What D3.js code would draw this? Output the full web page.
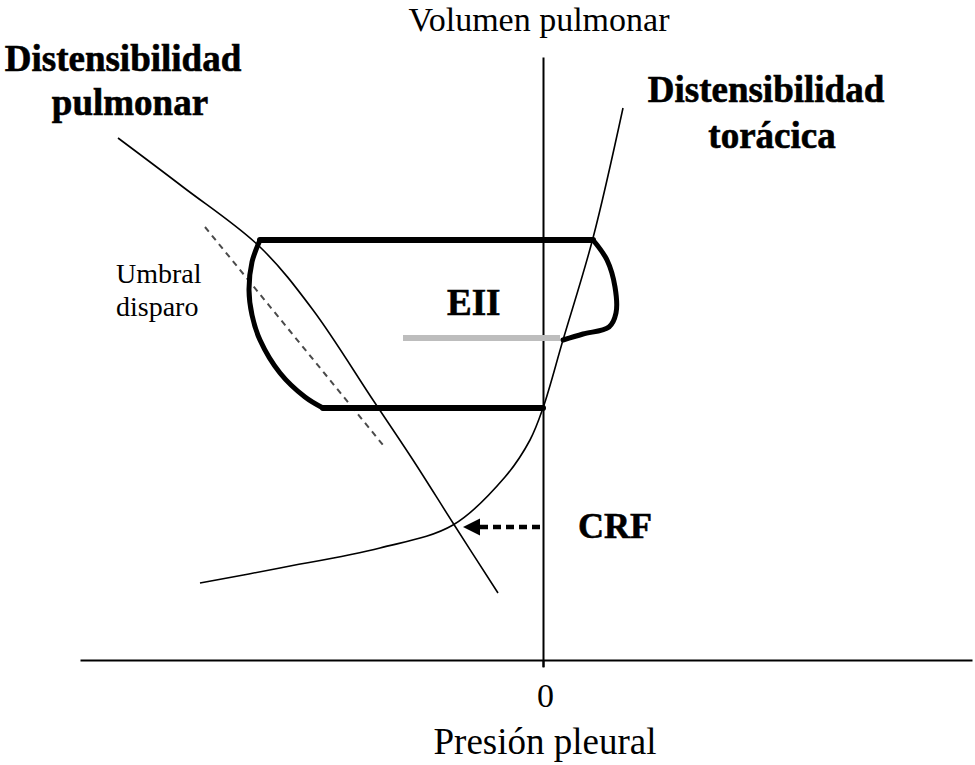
<!DOCTYPE html>
<meta charset="utf-8">
<title>Distensibilidad pulmonar y toracica</title>
<script src="https://cdn.jsdelivr.net/npm/d3@7"></script>
<style>
  body {
    margin: 0;
    background: #fff;
  }
  svg text {
    font-family: "Liberation Serif", "Times New Roman", serif;
    fill: #000;
  }
</style>

<div id="chart"></div>

<script>
  // presion pleural (x) y volumen pulmonar (y), unidades arbitrarias, 0 = origen
  var lungCurve = [[-21.25, 26.1], [-18.0, 23.65], [-14.15, 20.65], [-11.5, 17.5],
                   [-8.5, 13.0], [-6.5, 10.0], [-4.5, 6.85], [-2.25, 3.35]];
  var chestCurve = [[-17.15, 3.85], [-13.15, 4.6], [-8.15, 5.6], [-4.5, 6.75], [-1.9, 9.15],
                    [-0.65, 11.0], [0, 12.6], [1.0, 16.0], [2.5, 21.1], [4.0, 27.6]];

  // lazo del esfuerzo inspiratorio
  var loopTop = [[-14.15, 21.0], [2.5, 21.0]];
  var loopBottom = [[-11.0, 12.6], [0, 12.6]];
  var loopLeft = [[-14.15, 21.0], [-14.55, 19.9], [-14.7, 18.5], [-14.55, 17.25],
                  [-14.15, 16.0], [-13.15, 14.35], [-11.9, 13.15], [-11.0, 12.6]];
  var loopRight = [[2.5, 21.0], [3.2, 20.0], [3.6, 18.65], [3.65, 17.35],
                   [3.3, 16.65], [2.0, 16.3], [1.0, 16.0]];

  var eiiLine = [[-7.0, 16.1], [0.85, 16.1]];
  var triggerLine = [[-16.9, 21.65], [-8.0, 10.75]];
  var crfArrow = [[0, 6.65], [-4.0, 6.65]];

  var xTicks = [0];
  var xTitle = "Presión pleural";
  var yTitle = "Volumen pulmonar";
  var lungLabel = ["Distensibilidad", "pulmonar"];
  var chestLabel = ["Distensibilidad", "torácica"];
  var triggerLabel = ["Umbral", "disparo"];
  var eiiLabel = "EII";
  var crfLabel = "CRF";

  var width = 975, height = 765;

  var svg = d3.select("#chart")
    .append("svg")
      .attr("width", width)
      .attr("height", height);

  var x = d3.scaleLinear().domain([-23.15, 21.45]).range([80, 972]);
  var y = d3.scaleLinear().domain([-0.35, 30.15]).range([667, 57]);

  var line = d3.line()
    .x(function(d) { return x(d[0]); })
    .y(function(d) { return y(d[1]); });

  var curve = d3.line()
    .x(function(d) { return x(d[0]); })
    .y(function(d) { return y(d[1]); })
    .curve(d3.curveCatmullRom.alpha(0.5));

  //x axis
  var xAxis = svg.append("g")
    .attr("transform", "translate(0," + y(0) + ")")
    .call(d3.axisBottom(x)
      .tickValues(xTicks)
      .tickFormat(d3.format("d"))
      .tickSize(7)
      .tickSizeOuter(0)
      .tickPadding(16));
  xAxis.select(".domain").attr("stroke", "#000").attr("stroke-width", 2);
  xAxis.selectAll(".tick line").attr("stroke", "#000").attr("stroke-width", 2);
  xAxis.selectAll("text")
    .attr("font-family", null)
    .style("font-size", "34px")
    .attr("dx", "2px");

  //y axis
  var yAxis = svg.append("g")
    .attr("transform", "translate(" + x(0) + ",0)")
    .call(d3.axisLeft(y).tickValues([]).tickSizeOuter(0));
  yAxis.select(".domain").attr("stroke", "#000").attr("stroke-width", 2);

  //axis titles
  svg.append("text")
    .attr("x", 545)
    .attr("y", 754)
    .attr("text-anchor", "middle")
    .style("font-size", "37px")
    .text(xTitle);

  svg.append("text")
    .attr("x", 539)
    .attr("y", 31)
    .attr("text-anchor", "middle")
    .style("font-size", "34px")
    .text(yTitle);

  //compliance curves
  svg.append("path")
    .datum(lungCurve)
    .attr("d", curve)
    .attr("fill", "none")
    .attr("stroke", "#000")
    .attr("stroke-width", 1.6);

  svg.append("path")
    .datum(chestCurve)
    .attr("d", curve)
    .attr("fill", "none")
    .attr("stroke", "#000")
    .attr("stroke-width", 1.6);

  //umbral de disparo
  svg.append("path")
    .datum(triggerLine)
    .attr("d", line)
    .attr("fill", "none")
    .attr("stroke", "#4a4a4a")
    .attr("stroke-width", 2)
    .attr("stroke-dasharray", "6,5");

  //EII grey line
  svg.append("path")
    .datum(eiiLine)
    .attr("d", line)
    .attr("fill", "none")
    .attr("stroke", "#bdbdbd")
    .attr("stroke-width", 6);

  //loop
  [loopTop, loopBottom].forEach(function(seg) {
    svg.append("path")
      .datum(seg)
      .attr("d", line)
      .attr("fill", "none")
      .attr("stroke", "#000")
      .attr("stroke-width", 6)
      .attr("stroke-linecap", "round");
  });

  [loopLeft, loopRight].forEach(function(seg) {
    svg.append("path")
      .datum(seg)
      .attr("d", curve)
      .attr("fill", "none")
      .attr("stroke", "#000")
      .attr("stroke-width", 5)
      .attr("stroke-linecap", "round")
      .attr("stroke-linejoin", "round");
  });

  //CRF arrow
  var tip = crfArrow[1], start = crfArrow[0];
  svg.append("line")
    .attr("x1", x(start[0]) - 3)
    .attr("y1", y(start[1]))
    .attr("x2", x(tip[0]) + 15)
    .attr("y2", y(tip[1]))
    .attr("stroke", "#000")
    .attr("stroke-width", 4.5)
    .attr("stroke-dasharray", "8,5");
  svg.append("path")
    .attr("d", "M" + x(tip[0]) + "," + y(tip[1]) +
               "L" + (x(tip[0]) + 17) + "," + (y(tip[1]) - 8.5) +
               "L" + (x(tip[0]) + 17) + "," + (y(tip[1]) + 8.5) + "Z")
    .attr("fill", "#000");

  //labels
  svg.selectAll(".lungLabel")
    .data(lungLabel)
    .enter()
    .append("text")
    .attr("x", function(d, i) { return i == 0 ? 123 : 130; })
    .attr("y", function(d, i) { return 71 + i * 44; })
    .attr("text-anchor", "middle")
    .style("font-size", "37px")
    .style("font-weight", "bold")
    .style("stroke", "#000")
    .style("stroke-width", 0.6)
    .text(function(d) { return d; });

  svg.selectAll(".chestLabel")
    .data(chestLabel)
    .enter()
    .append("text")
    .attr("x", function(d, i) { return i == 0 ? 766 : 772; })
    .attr("y", function(d, i) { return 102 + i * 46; })
    .attr("text-anchor", "middle")
    .style("font-size", "37px")
    .style("font-weight", "bold")
    .style("stroke", "#000")
    .style("stroke-width", 0.6)
    .text(function(d) { return d; });

  svg.selectAll(".triggerLabel")
    .data(triggerLabel)
    .enter()
    .append("text")
    .attr("x", 116)
    .attr("y", function(d, i) { return 283 + i * 33; })
    .style("font-size", "28px")
    .text(function(d) { return d; });

  svg.append("text")
    .attr("x", 447)
    .attr("y", 315)
    .style("font-size", "37px")
    .style("font-weight", "bold")
    .style("stroke", "#000")
    .style("stroke-width", 0.6)
    .text(eiiLabel);

  svg.append("text")
    .attr("x", 578)
    .attr("y", 538)
    .style("font-size", "36px")
    .style("font-weight", "bold")
    .style("stroke", "#000")
    .style("stroke-width", 0.6)
    .text(crfLabel);
</script>
